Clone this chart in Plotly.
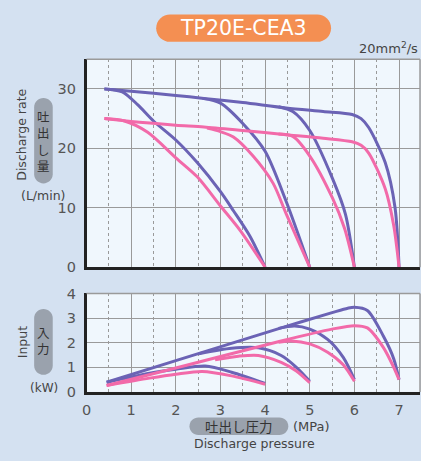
import plotly.graph_objects as go

W, H = 421, 461

# ---------------- data ----------------
# Discharge rate (L/min) vs discharge pressure (MPa)
rate_blue_7_x = [0.4, 1.0, 2.0, 2.63, 3.5, 4.47, 5.3, 5.95, 6.15, 6.32, 6.69, 6.91, 7.0]
rate_blue_7_y = [30.0, 29.6, 28.9, 28.4, 27.7, 26.8, 26.2, 25.7, 25.0, 23.5, 17.6, 10.0, 0.0]
rate_blue_6_x = [4.3, 4.62, 5.0, 5.51, 5.8, 6.0]
rate_blue_6_y = [27.0, 26.2, 23.0, 14.9, 8.9, 0.0]
rate_blue_5_x = [2.6, 3.0, 3.51, 4.0, 4.47, 5.0]
rate_blue_5_y = [28.4, 27.6, 24.1, 19.5, 11.1, 0.0]
rate_blue_4_x = [0.4, 0.8, 1.15, 1.5, 2.0, 2.48, 3.0, 3.29, 3.66, 4.0]
rate_blue_4_y = [30.0, 29.5, 27.3, 24.6, 21.4, 17.6, 12.7, 9.5, 5.2, 0.0]

rate_pink_7_x = [0.4, 1.0, 2.0, 2.63, 3.5, 4.47, 5.3, 5.95, 6.15, 6.32, 6.69, 6.88, 7.0]
rate_pink_7_y = [25.0, 24.5, 23.9, 23.6, 23.0, 22.3, 21.7, 21.1, 20.5, 19.2, 13.2, 7.0, 0.0]
rate_pink_6_x = [4.3, 4.62, 5.0, 5.51, 5.78, 6.0]
rate_pink_6_y = [22.4, 22.0, 18.7, 11.6, 6.5, 0.0]
rate_pink_5_x = [2.7, 3.0, 3.29, 3.73, 4.18, 4.47, 5.0]
rate_pink_5_y = [23.4, 22.8, 21.9, 18.7, 14.1, 9.0, 0.0]
rate_pink_4_x = [0.4, 0.85, 1.37, 2.0, 2.48, 3.0, 3.44, 4.0]
rate_pink_4_y = [25.0, 24.6, 22.7, 18.4, 15.2, 10.3, 6.2, 0.0]

# Input (kW) vs discharge pressure (MPa)
inp_blue_7_x = [0.45, 2.0, 4.36, 5.5, 5.85, 6.0, 6.29, 6.65, 6.88, 7.0]
inp_blue_7_y = [0.39, 1.27, 2.6, 3.22, 3.4, 3.44, 3.31, 2.26, 1.35, 0.5]
inp_blue_6_x = [4.3, 4.66, 5.0, 5.4, 5.75, 6.0]
inp_blue_6_y = [2.58, 2.68, 2.55, 2.13, 1.4, 0.5]
inp_blue_5_x = [2.52, 3.25, 3.85, 4.36, 4.7, 5.0]
inp_blue_5_y = [1.55, 1.77, 1.79, 1.48, 1.0, 0.43]
inp_blue_4_x = [0.45, 1.41, 2.0, 2.66, 3.25, 4.0]
inp_blue_4_y = [0.39, 0.76, 0.92, 1.05, 0.8, 0.34]

inp_pink_7_x = [0.45, 2.0, 4.36, 5.5, 6.0, 6.29, 6.65, 6.88, 7.0]
inp_pink_7_y = [0.26, 0.97, 2.07, 2.55, 2.69, 2.6, 1.8, 1.0, 0.5]
inp_pink_6_x = [4.3, 4.59, 5.0, 5.4, 5.75, 6.0]
inp_pink_6_y = [2.02, 2.07, 1.95, 1.61, 1.1, 0.43]
inp_pink_5_x = [2.88, 3.4, 3.85, 4.36, 4.7, 5.0]
inp_pink_5_y = [1.31, 1.45, 1.48, 1.2, 0.85, 0.37]
inp_pink_4_x = [0.45, 1.41, 2.0, 2.59, 3.25, 4.0]
inp_pink_4_y = [0.26, 0.56, 0.72, 0.83, 0.65, 0.31]

x_ticks = [0, 1, 2, 3, 4, 5, 6, 7]
rate_ticks = [0, 10, 20, 30]
input_ticks = [0, 1, 2, 3, 4]

BLUE = "#6b63b5"
PINK = "#f26aa9"
GRID = "#9a9a9a"
BG_PAGE = "#d4e1f1"
BG_PLOT = "#f0f7fd"
TXT = "#444444"
FONT = "DejaVu Sans, sans-serif"
JFONT = "Noto Sans CJK JP, sans-serif"


def px2paper(x, y):
    return x / W, 1 - y / H


# layout in pixels
X0, X1 = 82.5, 420.0
TOP_Y0, TOP_Y1 = 53.0, 268.5
BOT_Y0, BOT_Y1 = 295.7, 397.7

fig = go.Figure()

rate_series = [
    (rate_blue_7_x, rate_blue_7_y, BLUE), (rate_blue_6_x, rate_blue_6_y, BLUE),
    (rate_blue_5_x, rate_blue_5_y, BLUE), (rate_blue_4_x, rate_blue_4_y, BLUE),
    (rate_pink_7_x, rate_pink_7_y, PINK), (rate_pink_6_x, rate_pink_6_y, PINK),
    (rate_pink_5_x, rate_pink_5_y, PINK), (rate_pink_4_x, rate_pink_4_y, PINK),
]
for xs, ys, c in rate_series:
    fig.add_trace(go.Scatter(x=xs, y=ys, mode="lines", xaxis="x", yaxis="y",
                             line=dict(color=c, width=3, shape="spline", smoothing=0.8),
                             hoverinfo="skip", showlegend=False))

inp_series = [
    (inp_blue_7_x, inp_blue_7_y, BLUE), (inp_blue_6_x, inp_blue_6_y, BLUE),
    (inp_blue_5_x, inp_blue_5_y, BLUE), (inp_blue_4_x, inp_blue_4_y, BLUE),
    (inp_pink_7_x, inp_pink_7_y, PINK), (inp_pink_6_x, inp_pink_6_y, PINK),
    (inp_pink_5_x, inp_pink_5_y, PINK), (inp_pink_4_x, inp_pink_4_y, PINK),
]
for xs, ys, c in inp_series:
    fig.add_trace(go.Scatter(x=xs, y=ys, mode="lines", xaxis="x2", yaxis="y2",
                             line=dict(color=c, width=3, shape="spline", smoothing=0.8),
                             hoverinfo="skip", showlegend=False))

xr = [0, (X1 - X0) / ((398.8 - X0) / 7)]

common_x = dict(range=xr, tickvals=x_ticks, showgrid=True, gridcolor=GRID, gridwidth=1.3,
                minor=dict(dtick=0.5, tick0=0, showgrid=True, gridcolor=GRID, gridwidth=1,
                           griddash="3px,3px"),
                zeroline=False, showline=True, linecolor="#222222", linewidth=3,
                ticks="", fixedrange=True)

TICKFONT = dict(size=14.5, color="#555555", family=FONT)

fig.update_layout(
    width=W, height=H,
    margin=dict(l=0, r=0, t=0, b=0),
    paper_bgcolor=BG_PAGE, plot_bgcolor=BG_PLOT,
    font=dict(family=FONT, color=TXT, size=13),
    xaxis=dict(domain=[X0 / W, X1 / W], anchor="y", showticklabels=False, **common_x),
    yaxis=dict(domain=[1 - TOP_Y1 / H, 1 - TOP_Y0 / H], anchor="x", range=[0, 35],
               tickvals=rate_ticks, showgrid=True, gridcolor=GRID, gridwidth=1.3,
               zeroline=False, showline=True, linecolor="#222222", linewidth=2.5,
               ticks="", ticklabelstandoff=5, tickfont=TICKFONT, fixedrange=True),
    xaxis2=dict(domain=[X0 / W, X1 / W], anchor="y2", showticklabels=True,
                tickfont=TICKFONT, ticklabelstandoff=3, **common_x),
    yaxis2=dict(domain=[1 - BOT_Y1 / H, 1 - BOT_Y0 / H], anchor="x2", range=[0, 4],
                tickvals=input_ticks, showgrid=True, gridcolor=GRID, gridwidth=1.3,
                zeroline=False, showline=True, linecolor="#222222", linewidth=2.5,
                ticks="", ticklabelstandoff=5, tickfont=TICKFONT, fixedrange=True),
)

shapes = []
# top/right gray borders
for xa, ya in (("x", "y"), ("x2", "y2")):
    shapes.append(dict(type="line", xref=f"{xa} domain", yref=f"{ya} domain",
                       x0=0, x1=1, y0=1, y1=1, line=dict(color=GRID, width=1.5), layer="above"))
    shapes.append(dict(type="line", xref=f"{xa} domain", yref=f"{ya} domain",
                       x0=1, x1=1, y0=0, y1=1, line=dict(color=GRID, width=1.5), layer="above"))


def pill(x0, y0, x1, y1, color):
    r = min(x1 - x0, y1 - y0) / 2
    k = 0.5523 * r
    pts = [
        ("M", [(x0 + r, y0)]),
        ("L", [(x1 - r, y0)]),
        ("C", [(x1 - r + k, y0), (x1, y0 + r - k), (x1, y0 + r)]),
        ("L", [(x1, y1 - r)]),
        ("C", [(x1, y1 - r + k), (x1 - r + k, y1), (x1 - r, y1)]),
        ("L", [(x0 + r, y1)]),
        ("C", [(x0 + r - k, y1), (x0, y1 - r + k), (x0, y1 - r)]),
        ("L", [(x0, y0 + r)]),
        ("C", [(x0, y0 + r - k), (x0 + r - k, y0), (x0 + r, y0)]),
    ]
    path = ""
    for cmd, ps in pts:
        path += cmd + " ".join("%.5f,%.5f" % px2paper(a, b) for a, b in ps) + " "
    path += "Z"
    return dict(type="path", xref="paper", yref="paper", path=path,
                fillcolor=color, line=dict(width=0), layer="above")


shapes.append(pill(153, 6.7, 330, 35, "#f48f52"))
shapes.append(pill(29.5, 93.3, 48.3, 181.7, "#9aa2ad"))
shapes.append(pill(29.5, 311.7, 48.3, 380, "#9aa2ad"))
shapes.append(pill(186.7, 424.3, 286.7, 442.3, "#9aa2ad"))
fig.update_layout(shapes=shapes)


def ann(text, x, y, size=13, color=TXT, angle=0, family=FONT, xanchor="center"):
    px, py = px2paper(x, y)
    fig.add_annotation(text=text, x=px, y=py, xref="paper", yref="paper",
                       xanchor=xanchor, yanchor="middle", showarrow=False,
                       textangle=angle, font=dict(size=size, color=color, family=family))


ann("TP20E-CEA3", 241.5, 21, size=20.5, color="white")
ann("20mm<sup>2</sup>/s", 420, 41, size=13, xanchor="right")
ann("Discharge rate", 17, 131.5, size=12.5, angle=-90)
ann("吐<br>出<br>し<br>量", 38.7, 137.5, size=12.5, color="#333333", family=JFONT)
ann("(L/min)", 39, 194.5, size=12.5)
ann("Input", 18.5, 346, size=12.5, angle=-90)
ann("入<br>力", 38.7, 344, size=12.5, color="#333333", family=JFONT)
ann("(kW)", 39, 393.5, size=12)
ann("吐出し圧力", 236.7, 433.5, size=13.5, color="#333333", family=JFONT)
ann("(MPa)", 310, 433.5, size=13)
ann("Discharge pressure", 252, 451.5, size=12.5)

fig.write_html("out.html")
